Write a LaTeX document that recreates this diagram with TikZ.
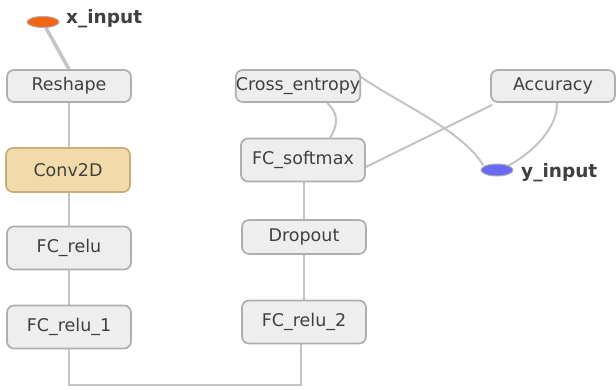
\documentclass[tikz,border=0pt]{standalone}
\usepackage{fontspec}
\setmainfont{DejaVu Sans}
\usetikzlibrary{shapes.geometric,backgrounds}
\definecolor{boxfill}{HTML}{EEEEEE}
\definecolor{boxline}{HTML}{AFAFAF}
\definecolor{convfill}{HTML}{F2DBAA}
\definecolor{convline}{HTML}{C9AE78}
\definecolor{edgecol}{HTML}{C4C4C4}
\definecolor{textcol}{HTML}{404040}
\definecolor{xinfill}{HTML}{F26511}
\definecolor{yinfill}{HTML}{6A6AF5}
\begin{document}
\begin{tikzpicture}[x=1pt,y=-1pt,
  layer/.style={draw=boxline, fill=boxfill, rounded corners=7pt, line width=1.7pt,
    minimum width=124pt, inner sep=0pt, text=textcol,
    font=\fontsize{17.5}{19}\selectfont},
  convlayer/.style={layer, draw=convline, fill=convfill},
  inputnode/.style={ellipse, draw=boxline, line width=1pt, minimum width=32pt,
    minimum height=11pt, inner sep=0pt},
  inputlabel/.style={anchor=west, text=textcol, inner sep=0pt,
    font=\fontsize{18.5}{20}\selectfont\bfseries},
  link/.style={draw=edgecol, line width=2pt},
  trunk/.style={link, line width=2.8pt}]
\useasboundingbox (0,0) rectangle (616,389);

% left column
\node[inputnode, fill=xinfill] (xin) at (43,22) {};
\node[inputlabel] (xinlab) at (66,19) {x\_input};
\node[layer, minimum height=32pt] (reshape) at (69,86) {Reshape};
\node[convlayer, minimum height=44pt] (conv) at (68,170) {Conv2D};
\node[layer, minimum height=43pt] (fcr) at (69,248) {FC\_relu};
\node[layer, minimum height=43pt] (fcr1) at (69,327) {FC\_relu\_1};

% middle column
\node[layer, minimum height=43pt] (fcr2) at (304,322) {FC\_relu\_2};
\node[layer, minimum height=34pt] (drop) at (304,237) {Dropout};
\node[layer, minimum height=43pt] (soft) at (303,160) {FC\_softmax};
\node[layer, minimum height=32pt] (xent) at (298,86) {Cross\_entropy};

% right side
\node[layer, minimum height=32pt] (acc) at (553,86) {Accuracy};
\node[inputnode, fill=yinfill, minimum height=12pt] (yin) at (497,170) {};
\node[inputlabel] (yinlab) at (521,173) {y\_input};

\coordinate (corner) at (301,385);

% paper and connectors go underneath the boxes
\begin{pgfonlayer}{background}
\fill[white] (0,0) rectangle (616,389);
\path[link, line width=3.5pt] ([xshift=3pt]xin.south) -- (reshape.north);
\path[trunk] (reshape.south) -- (reshape.south |- conv.north);
\path[trunk] (reshape.south |- conv.south) -- (fcr.north);
\path[trunk] (fcr) -- (fcr1);
\path[trunk] (fcr1.south) |- (corner) -- (corner |- fcr2.south);
\path[trunk] (fcr2) -- (drop);
\path[trunk] (drop.north) -- (drop.north |- soft.south);
\path[link] ([xshift=29pt]xent.south) .. controls +(12,10) and +(8,-12) .. ([xshift=27pt]soft.north);
\path[link] ([yshift=9pt]xent.east) .. controls (400,104) and (462,130) .. ([xshift=-2pt]yin.north west);
\path[link] ([xshift=2pt,yshift=-2pt]acc.south west) -- ([yshift=-7pt]soft.east);
\path[link] ([xshift=4pt]acc.south) .. controls +(1,22) and +(28,-15) .. (yin.north east);
\end{pgfonlayer}
\end{tikzpicture}
\end{document}
